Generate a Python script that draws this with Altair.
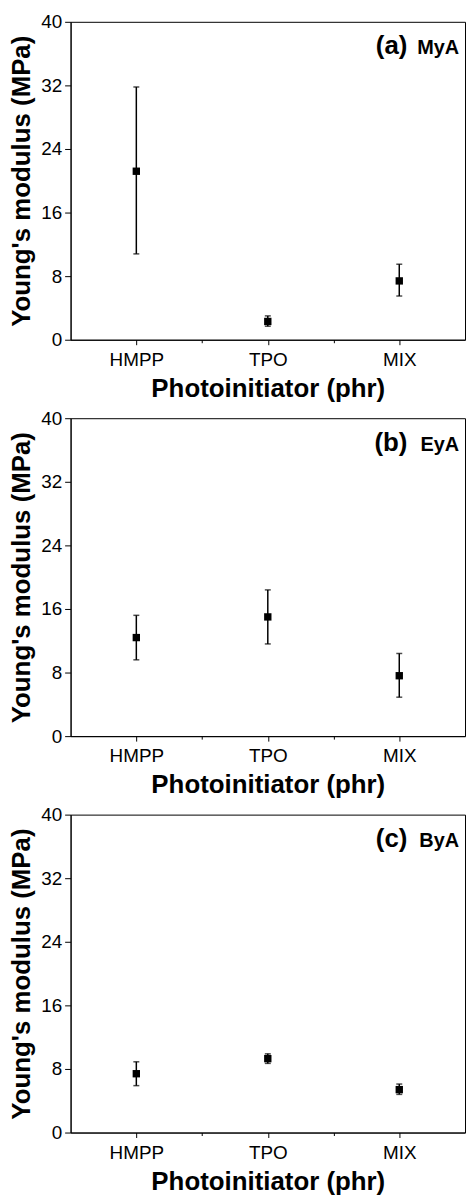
import altair as alt
import pandas as pd

categories = ["HMPP", "TPO", "MIX"]
panel_tags = ["(a)", "(b)", "(c)"]
samples = ["MyA", "EyA", "ByA"]

mya_mean = [21.2, 2.3, 7.4]
mya_low = [10.8, 1.7, 5.5]
mya_high = [31.8, 3.0, 9.5]

eya_mean = [12.4, 15.0, 7.6]
eya_low = [9.6, 11.6, 4.9]
eya_high = [15.2, 18.4, 10.4]

bya_mean = [7.4, 9.3, 5.4]
bya_low = [5.9, 8.7, 4.8]
bya_high = [8.9, 9.9, 6.1]

y_major = [0, 8, 16, 24, 32, 40]
y_minor = [4, 12, 20, 28, 36]

series = [
    (mya_mean, mya_low, mya_high),
    (eya_mean, eya_low, eya_high),
    (bya_mean, bya_low, bya_high),
]

FONT = "Liberation Sans"

x_values = []
for i in range(len(categories)):
    x_values.append(i + 1)
    if i < len(categories) - 1:
        x_values.append(i + 1.5)

label_expr = " : ".join(
    f"datum.value == {i + 1} ? '{c}'" for i, c in enumerate(categories)
) + " : ''"

y_values = sorted(y_major + y_minor)


def panel(means, lows, highs, tag, sample):
    df = pd.DataFrame({
        "cat": categories,
        "pos": list(range(1, len(categories) + 1)),
        "mean": means,
        "low": lows,
        "high": highs,
    })
    x_scale = alt.Scale(domain=[0.5, len(categories) + 0.5], nice=False, zero=False)
    y_scale = alt.Scale(domain=[0, 40], nice=False)
    x_axis = alt.Axis(
        values=x_values,
        labelExpr=label_expr,
        title="Photoinitiator (phr)",
        tickSize={"condition": {"test": "datum.value % 1 === 0", "value": 5}, "value": 3},
        labelPadding=6,
        titlePadding=6,
        grid=False,
    )
    y_axis = alt.Axis(
        values=y_values,
        labelExpr="datum.value % 8 === 0 ? datum.label : ''",
        title="Young's modulus (MPa)",
        tickSize={"condition": {"test": "datum.value % 8 === 0", "value": 6}, "value": 3},
        labelPadding=3,
        titlePadding=6,
        grid=False,
    )
    base = alt.Chart(df)
    rules = base.mark_rule(color="black", strokeWidth=1.5).encode(
        x=alt.X("pos:Q", scale=x_scale, axis=x_axis),
        y=alt.Y("low:Q", scale=y_scale, axis=y_axis),
        y2="high:Q",
    )
    cap_hi = base.mark_tick(color="black", orient="horizontal", size=6, thickness=1.5).encode(
        x="pos:Q", y="high:Q"
    )
    cap_lo = base.mark_tick(color="black", orient="horizontal", size=6, thickness=1.5).encode(
        x="pos:Q", y="low:Q"
    )
    pts = base.mark_square(color="black", size=55, opacity=1, filled=True).encode(
        x="pos:Q", y="mean:Q"
    )
    ann_df = pd.DataFrame({"x": [3.455], "y": [35.9], "tag": [tag], "sample": [sample]})
    ann_sample = alt.Chart(ann_df).mark_text(
        align="right", baseline="alphabetic", font=FONT, fontSize=20,
        fontWeight="bold", color="black"
    ).encode(x="x:Q", y="y:Q", text="sample:N")
    ann_tag = alt.Chart(ann_df).mark_text(
        align="right", baseline="alphabetic", font=FONT, fontSize=26,
        fontWeight="bold", color="black", dx=-52
    ).encode(x="x:Q", y="y:Q", text="tag:N")
    return alt.layer(rules, cap_hi, cap_lo, pts, ann_tag, ann_sample).properties(
        width=397, height=320
    )


panels = [
    panel(m, l, h, t, s)
    for (m, l, h), t, s in zip(series, panel_tags, samples)
]

chart = alt.vconcat(*panels, spacing=6).properties(
    padding={"left": 0, "top": 0, "right": 0, "bottom": 0},
    background="white",
).configure_view(
    stroke="black", strokeWidth=1
).configure_axis(
    domainColor="black", domainWidth=1, tickColor="black", tickWidth=1,
    labelFont=FONT, labelFontSize=19, labelColor="black",
    titleFont=FONT, titleFontSize=26, titleFontWeight="bold", titleColor="black",
)

chart.save("out.html", embed_options={"renderer": "svg", "actions": False})
